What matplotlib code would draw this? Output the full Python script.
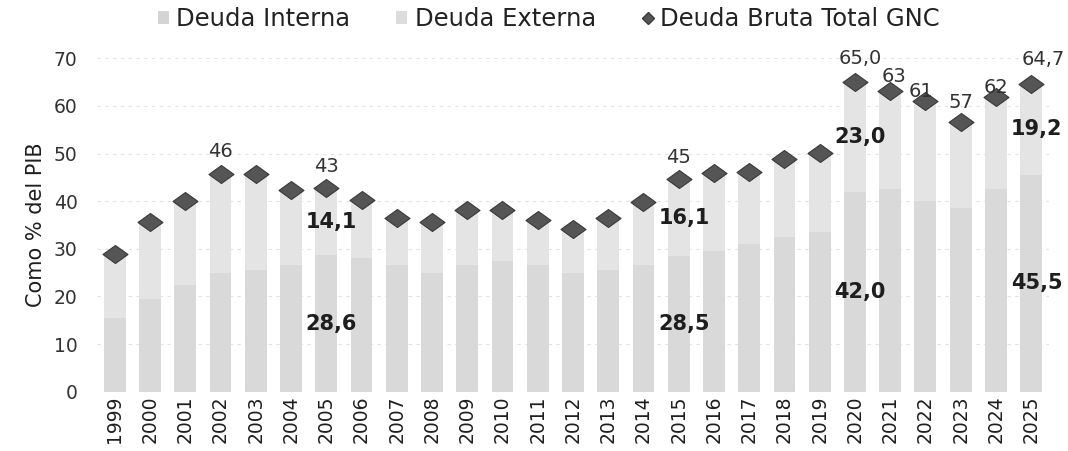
import matplotlib
matplotlib.use("Agg")
import matplotlib.pyplot as plt
from matplotlib.path import Path
from matplotlib.lines import Line2D
from matplotlib.patches import Patch

# ---------------- data ----------------
years = list(range(1999, 2026))
deuda_interna = [15.5, 19.5, 22.5, 25.0, 25.5, 26.5, 28.6, 28.0, 26.5, 25.0,
                 26.5, 27.5, 26.5, 25.0, 25.5, 26.5, 28.5, 29.5, 31.0, 32.5,
                 33.5, 42.0, 42.5, 40.0, 38.5, 42.5, 45.5]
deuda_externa = [13.4, 16.2, 17.5, 20.8, 20.2, 15.9, 14.1, 12.2, 9.9, 10.7,
                 11.6, 10.7, 9.6, 9.1, 10.9, 13.4, 16.1, 16.4, 15.2, 16.3,
                 16.6, 23.0, 20.7, 21.0, 18.2, 19.3, 19.2]
deuda_total = [28.9, 35.7, 40.0, 45.8, 45.7, 42.4, 42.7, 40.2, 36.4, 35.7,
               38.1, 38.2, 36.1, 34.1, 36.4, 39.9, 44.6, 45.9, 46.2, 48.8,
               50.1, 65.0, 63.2, 61.0, 56.7, 61.8, 64.7]
total_label_text = {2002: "46", 2005: "43", 2015: "45", 2020: "65,0",
                    2021: "63", 2022: "61", 2023: "57", 2024: "62", 2025: "64,7"}
segment_label_years = [2005, 2015, 2020, 2025]
y_ticks = [0, 10, 20, 30, 40, 50, 60, 70]

# ---------------- style ----------------
c_int = "#d9d9d9"
c_ext = "#e4e4e4"
c_dia = "#555555"
txt = "#1e1e1e"

fig = plt.figure(figsize=(10.68, 4.51), dpi=100)
ax = fig.add_axes([0.091, 0.1315, 0.891, 0.7392])

x = list(range(len(years)))
ax.bar(x, deuda_interna, width=0.62, color=c_int, zorder=2)
ax.bar(x, deuda_externa, bottom=deuda_interna, width=0.62, color=c_ext, zorder=2)

diamond = Path([(-1, 0), (0, 0.72), (1, 0), (0, -0.72), (-1, 0)],
               [Path.MOVETO, Path.LINETO, Path.LINETO, Path.LINETO, Path.CLOSEPOLY])
ax.plot(x, deuda_total, linestyle="none", marker=diamond, markersize=18,
        markerfacecolor=c_dia, markeredgecolor="#3a3a3a", markeredgewidth=0.8, zorder=4)

# segment labels
for yr in segment_label_years:
    i = years.index(yr)
    ax.text(i + 0.15, deuda_interna[i] / 2, f"{deuda_interna[i]:.1f}".replace(".", ","),
            ha="center", va="center", fontsize=15, fontweight="bold", color=txt, zorder=5)
    ax.text(i + 0.15, deuda_interna[i] + deuda_externa[i] / 2,
            f"{deuda_externa[i]:.1f}".replace(".", ","),
            ha="center", va="center", fontsize=15, fontweight="bold", color=txt, zorder=5)

# total labels
lab_offsets = {2020: (4, 17), 2025: (9, 17), 2021: (3, 10), 2022: (-3, 7),
               2023: (0, 14), 2024: (0, 7)}
for yr, s in total_label_text.items():
    i = years.index(yr)
    off = lab_offsets.get(yr, (0, 16))
    ax.annotate(s, (i, deuda_total[i]), xytext=off, textcoords="offset points",
                ha="center", va="center", fontsize=14, color="#333333", zorder=5)

ax.set_xlim(-0.5, len(years) - 0.5)
ax.set_ylim(0, 70)
ax.set_yticks(y_ticks)
ax.set_yticklabels([str(v) for v in y_ticks], fontsize=13.5, color="#333333")
ax.set_xticks(x)
ax.set_xticklabels([str(y) for y in years], rotation=90, fontsize=13.5, color=txt)
ax.tick_params(length=0)
ax.tick_params(axis="x", pad=3)
ax.tick_params(axis="y", pad=14)
for sp in ax.spines.values():
    sp.set_visible(False)
ax.yaxis.grid(True, color="#e2e2e2", linestyle=(0, (3, 4)), linewidth=0.8, zorder=0)
ax.set_axisbelow(True)
ax.set_ylabel("Como % del PIB", fontsize=15, color=txt, labelpad=6)

handles = [Patch(facecolor="#d4d4d4", edgecolor="none", label="Deuda Interna"),
           Patch(facecolor="#dcdcdc", edgecolor="none", label="Deuda Externa"),
           Line2D([], [], linestyle="none", marker="D", markersize=6,
                  markerfacecolor=c_dia, markeredgecolor="#3a3a3a",
                  label="Deuda Bruta Total GNC")]
fig.legend(handles=handles, loc="center", bbox_to_anchor=(0.514, 0.958), ncol=3,
           frameon=False, fontsize=17.5, handlelength=0.45, handleheight=0.45,
           handletextpad=0.3, columnspacing=1.9, labelcolor="#222222")

fig.savefig("out.png", dpi=100)
